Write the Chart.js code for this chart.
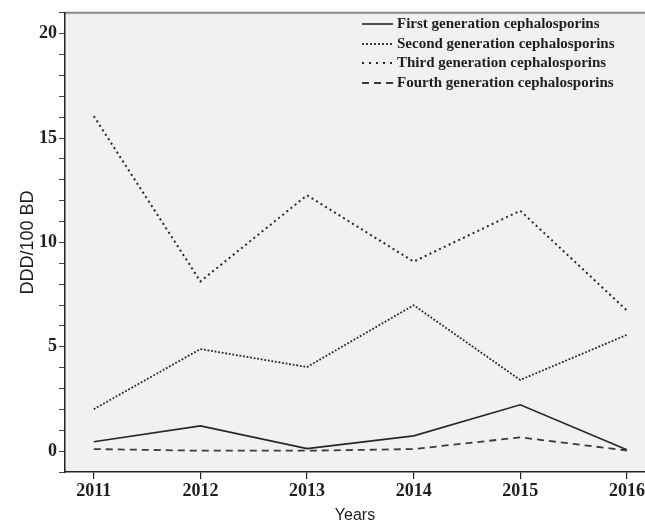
<!DOCTYPE html>
<html>
<head>
<meta charset="utf-8">
<script src="https://cdn.jsdelivr.net/npm/chart.js@4/dist/chart.umd.min.js"></script>
<style>
  html, body { margin: 0; padding: 0; background: #ffffff; }
  #wrap { position: relative; width: 645px; height: 525px; }
</style>
</head>
<body>
<div id="wrap"><canvas id="c" width="645" height="525"></canvas></div>
<script>
const years = [2011, 2012, 2013, 2014, 2015, 2016];
const firstGen = [0.45, 1.21, 0.12, 0.73, 2.22, 0.07];
const secondGen = [2.01, 4.89, 4.03, 6.99, 3.41, 5.57];
const thirdGen = [16.05, 8.13, 12.26, 9.08, 11.52, 6.74];
const fourthGen = [0.10, 0.02, 0.02, 0.10, 0.66, 0.03];
const seriesLabels = [
  'First generation cephalosporins',
  'Second generation cephalosporins',
  'Third generation cephalosporins',
  'Fourth generation cephalosporins'
];
const yTickLabels = [0, 5, 10, 15, 20];

const lineColor = '#262626';
const toPts = arr => years.map((y, i) => ({ x: y, y: arr[i] }));

const bgPlugin = {
  id: 'bg',
  beforeDraw(chart) {
    const { ctx, chartArea: a } = chart;
    ctx.save();
    ctx.fillStyle = '#f1f1f1';
    ctx.fillRect(a.left, a.top, a.right - a.left, a.bottom - a.top);
    ctx.strokeStyle = '#8a8a8a';
    ctx.lineWidth = 2;
    ctx.beginPath();
    ctx.moveTo(a.left, a.top);
    ctx.lineTo(a.right, a.top);
    ctx.stroke();
    ctx.restore();
  },
  afterDraw(chart) {
    const { ctx } = chart;
    ctx.save();
    const x0 = 362, x1 = 393, tx = 397;
    const rowY = [24, 44, 63, 83];
    ctx.font = 'bold 15px "Liberation Serif", "DejaVu Serif", serif';
    ctx.textBaseline = 'middle';
    ctx.fillStyle = '#1e1e1e';
    chart.data.datasets.forEach((ds, i) => {
      const y = rowY[i];
      ctx.strokeStyle = ds.borderColor;
      ctx.lineWidth = ds.borderWidth;
      ctx.setLineDash(ds.legendDash || ds.borderDash || []);
      ctx.beginPath();
      ctx.moveTo(x0, y);
      ctx.lineTo(x1, y);
      ctx.stroke();
      ctx.setLineDash([]);
      ctx.fillText(ds.label, tx, y);
    });
    ctx.restore();
  }
};

new Chart(document.getElementById('c'), {
  type: 'line',
  data: {
    datasets: [
      { label: seriesLabels[0], data: toPts(firstGen), borderColor: lineColor, borderWidth: 1.6, borderDash: [], pointRadius: 0, tension: 0 },
      { label: seriesLabels[1], data: toPts(secondGen), borderColor: lineColor, borderWidth: 1.8, borderDash: [1.8, 1.8], legendDash: [2, 2], pointRadius: 0, tension: 0 },
      { label: seriesLabels[2], data: toPts(thirdGen), borderColor: lineColor, borderWidth: 2, borderDash: [2, 3.3], legendDash: [2, 5], pointRadius: 0, tension: 0 },
      { label: seriesLabels[3], data: toPts(fourthGen), borderColor: '#3a3a3a', borderWidth: 1.8, borderDash: [7, 5], pointRadius: 0, tension: 0 }
    ]
  },
  options: {
    responsive: false,
    animation: false,
    devicePixelRatio: 1,
    layout: { padding: { top: 12, right: 0, left: 0, bottom: 0 } },
    plugins: { legend: { display: false }, tooltip: { enabled: false } },
    scales: {
      x: {
        type: 'linear',
        min: 2010.73,
        max: 2016.17,
        afterBuildTicks: s => { s.ticks = years.map(v => ({ value: v })); },
        afterFit: s => { s.height = 53; s.paddingLeft = 0; s.paddingRight = 0; },
        grid: { drawOnChartArea: false, drawTicks: true, tickLength: 7, color: '#222', lineWidth: 1.2 },
        border: { display: true, color: '#222', width: 1.5 },
        ticks: {
          color: '#1e1e1e',
          padding: 2,
          maxRotation: 0,
          font: { family: '"Liberation Serif", "DejaVu Serif", serif', size: 18, weight: 'bold' },
          callback: v => String(v)
        },
        title: {
          display: true,
          text: 'Years',
          color: '#1e1e1e',
          padding: { top: 2, bottom: 0 },
          font: { family: '"Liberation Sans", Arial, sans-serif', size: 16 }
        }
      },
      y: {
        min: -1,
        max: 21,
        afterBuildTicks: s => {
          const t = [];
          for (let v = -1; v <= 21; v++) t.push({ value: v });
          s.ticks = t;
        },
        afterFit: s => { s.width = 65; },
        grid: { drawOnChartArea: false, drawTicks: true, tickLength: 6, color: '#444', lineWidth: 1 },
        border: { display: true, color: '#222', width: 1.5 },
        ticks: {
          color: '#1e1e1e',
          padding: 2,
          autoSkip: false,
          font: { family: '"Liberation Serif", "DejaVu Serif", serif', size: 18, weight: 'bold' },
          callback: v => (yTickLabels.includes(v) ? String(v) : '')
        },
        title: {
          display: true,
          text: 'DDD/100 BD',
          color: '#1e1e1e',
          padding: { top: 17, bottom: 0 },
          font: { family: '"Liberation Sans", Arial, sans-serif', size: 18 }
        }
      }
    }
  },
  plugins: [bgPlugin]
});
</script>
</body>
</html>
